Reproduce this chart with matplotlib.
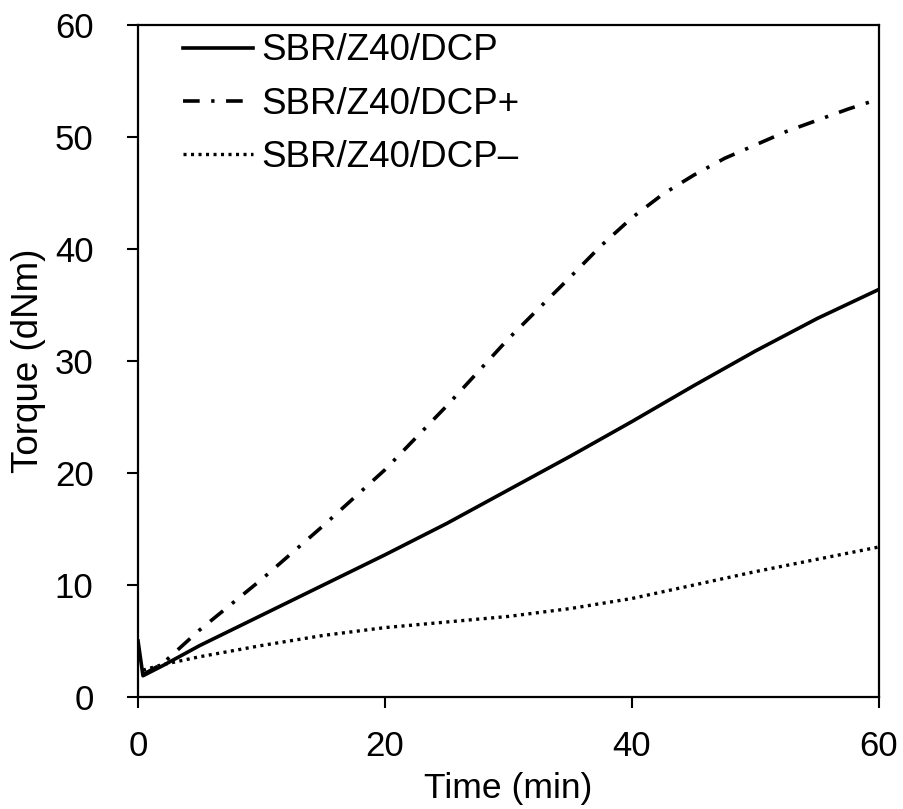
import numpy as np
import matplotlib.pyplot as plt

plt.rcParams['font.family'] = ['Liberation Sans', 'DejaVu Sans']
plt.rcParams['lines.scale_dashes'] = False

# Cure curves: torque vs. time
time_base = [0.0, 0.4, 2, 5, 10, 15, 20, 25, 30, 35, 40, 45, 50, 55, 60]
torque_base = [5.0, 1.9, 2.8, 4.6, 7.3, 10.0, 12.7, 15.5, 18.5, 21.5, 24.6, 27.8, 30.9, 33.8, 36.4]

time_plus = [0.4, 2, 5, 10, 15, 20, 25, 30, 35, 37.5, 40, 42.5, 45, 47.5, 50, 52.5, 55, 57.5, 60]
torque_plus = [2.0, 3.0, 6.0, 10.5, 15.3, 20.3, 26.0, 32.0, 37.5, 40.3, 42.8, 44.9, 46.6, 48.1, 49.3, 50.5, 51.5, 52.5, 53.4]

time_minus = [0.4, 2, 5, 10, 15, 20, 25, 30, 35, 40, 45, 50, 55, 60]
torque_minus = [2.4, 2.9, 3.6, 4.6, 5.5, 6.2, 6.7, 7.2, 7.9, 8.8, 10.0, 11.2, 12.3, 13.4]

labels = ['SBR/Z40/DCP', 'SBR/Z40/DCP+', 'SBR/Z40/DCP\u2013']

fig = plt.figure(figsize=(9.04, 8.09), dpi=100)
ax = fig.add_axes([0.1527, 0.1384, 0.8196, 0.8306])

ax.plot(time_base, torque_base, color='black', lw=2.6, label=labels[0])
ax.plot(time_plus, torque_plus, color='black', lw=2.6,
        linestyle=(0, (12, 8.3, 2.4, 8.3)), label=labels[1])
ax.plot(time_minus, torque_minus, color='black', lw=2.4,
        linestyle=(0, (2.2, 3.2)), label=labels[2])

ax.set_xlim(0, 60)
ax.set_ylim(0, 60)
ax.set_xticks([0, 20, 40, 60])
ax.set_yticks(range(0, 61, 10))
ax.tick_params(labelsize=25, length=8, width=1.5, direction='out')
ax.tick_params(axis='y', pad=24)
ax.tick_params(axis='x', pad=16)
for s in ax.spines.values():
    s.set_linewidth(1.6)

ax.set_xlabel('Time (min)', fontsize=25.5, va='center')
ax.xaxis.set_label_coords(0.5, -0.1354)
ax.set_ylabel('Torque (dNm)', fontsize=26.5, va='center')
ax.yaxis.set_label_coords(-0.1484, 0.5)

ax.legend(loc='upper left', bbox_to_anchor=(0.0607, 0.9875), frameon=False,
          fontsize=26.5, handlelength=1.9, handletextpad=0.22,
          labelspacing=0.5, borderaxespad=0, borderpad=0)

fig.savefig('out.png', dpi=100)
